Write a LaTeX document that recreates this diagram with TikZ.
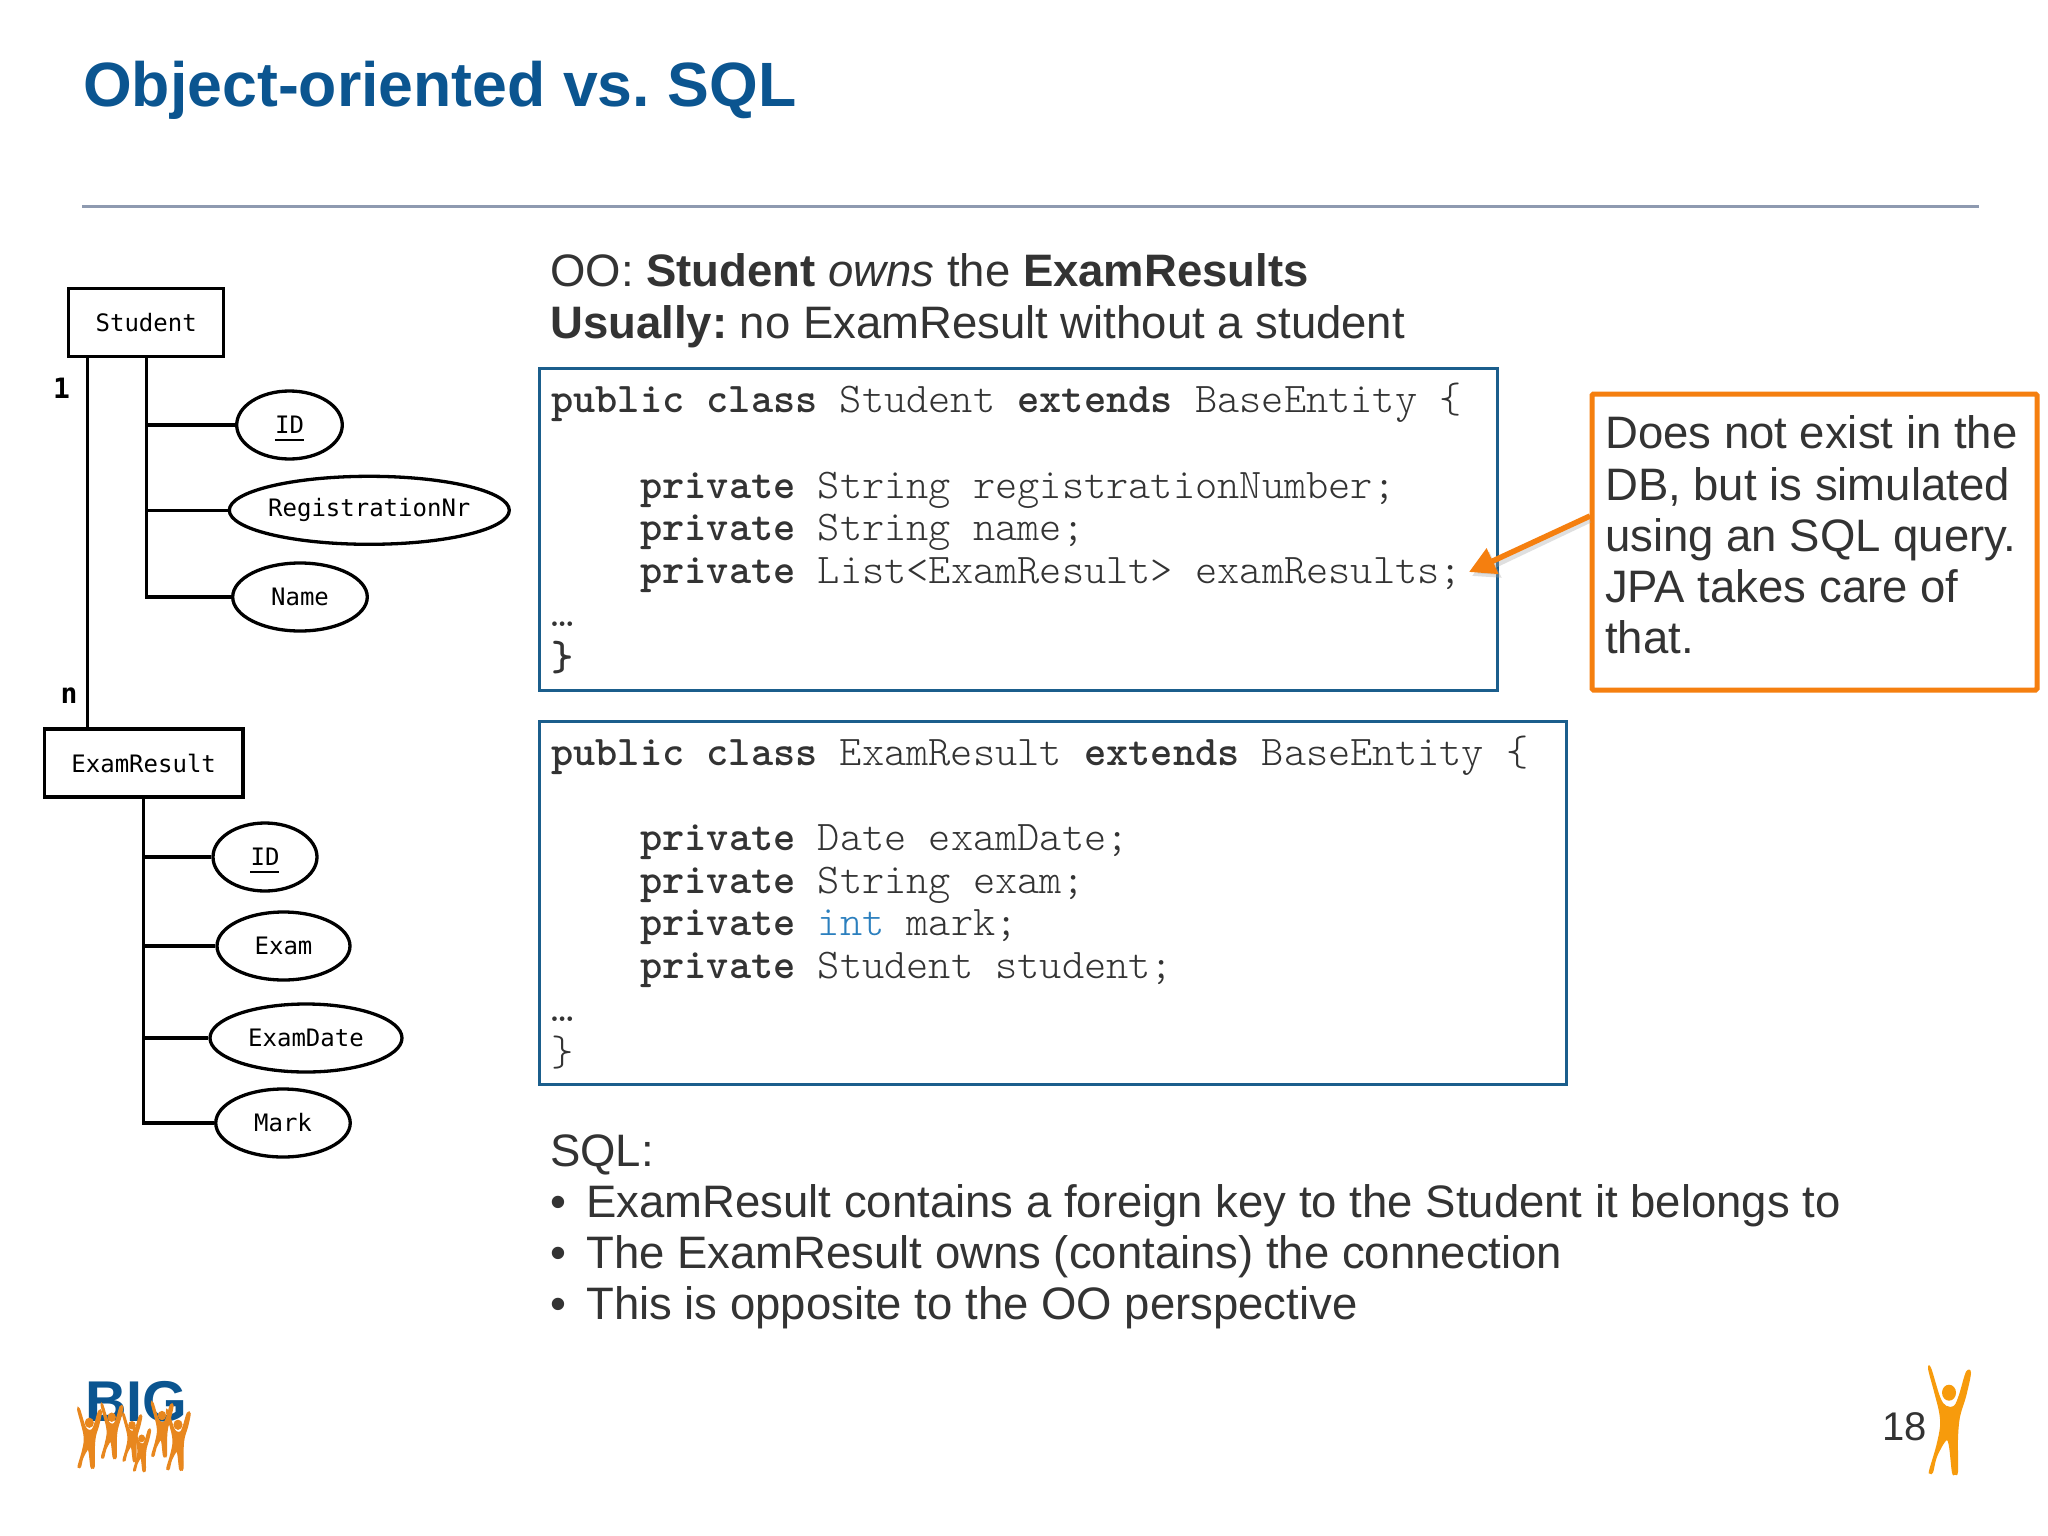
\documentclass[tikz,border=0pt]{standalone}
\usepackage{fontspec}
\setmainfont{Liberation Sans}
\newfontfamily\ermono{DejaVu Sans Mono}
\newfontfamily\codemono{Latin Modern Mono Light}
\usetikzlibrary{shapes.geometric,arrows.meta}
\definecolor{titleblue}{HTML}{0B5590}
\definecolor{rulegrey}{HTML}{8E9AB0}
\definecolor{bodygrey}{HTML}{333333}
\definecolor{boxblue}{HTML}{1B5E8C}
\definecolor{callorange}{HTML}{F57F0F}
\definecolor{logoorange}{HTML}{E8871E}
\definecolor{manorange}{HTML}{F79B0C}
\definecolor{intblue}{HTML}{2B7FBE}
\newcommand{\sizedfont}[1]{\fontsize{#1}{#1}\selectfont}
\newcommand{\kw}[1]{{\bfseries #1}}
\newcommand{\keyid}{\raisebox{-8pt}[0pt][0pt]{ID\llap{\rule[-8.4pt]{29pt}{2.8pt}}}}
\frenchspacing
\tikzset{
  x=1pt,y=-1pt,
  erbox/.style={draw=black,line width=3.3pt,rectangle,inner sep=0pt,font=\ermono\sizedfont{24},text=black},
  erell/.style={draw=black,line width=3.3pt,ellipse,inner sep=0pt,minimum height=68pt,font=\ermono\sizedfont{24},text=black},
  erline/.style={draw=black,line width=3.3pt},
  card/.style={font=\ermono\bfseries\sizedfont{28},text=black,inner sep=0pt},
  body/.style={anchor=base west,inner sep=0pt,font=\sizedfont{45.5},text=bodygrey},
  codeline/.style={anchor=base west,inner sep=0pt,font=\codemono\sizedfont{42.3},text=bodygrey},
  codebox/.style={draw=boxblue,line width=3pt,rectangle,inner sep=0pt},
  logoman/.style={fill=logoorange,draw=logoorange,line width=1.3pt,transform shape},
  person/.pic={
    \path[pic actions] (0,-29) ellipse (7 and 8);
    \path[pic actions] plot[smooth cycle,tension=.55] coordinates {
      (-21,-53) (-18,-54) (-9,-25) (-3,-16) (5,-16) (10,-27) (17,-50) (22,-49)
      (17,-25) (11,-5) (9,17) (9,50) (6,53) (3,51) (0,25) (-3,19) (-12,35) (-16,51)
      (-19,52) (-20,49) (-13,25) (-9,5) (-10,-10) (-15,-30)};
  },
}
\begin{document}
\begin{tikzpicture}
\useasboundingbox[fill=white] (0,0) rectangle (2048,1536);

% title
\node[anchor=base west,inner sep=0pt,font=\bfseries\sizedfont{62.6},text=titleblue] (title) at (83,107) {Object-oriented vs. SQL};
\coordinate (ruleL) at (82,206.5);
\coordinate (ruleR) at (1979,206.5);
\draw[rulegrey,line width=2.8pt] (ruleL) -- (ruleR);

% ER diagram
\node[erbox,minimum width=155pt,minimum height=68pt] (student) at (146.2,322.5) {Student};
\node[erell,minimum width=105.6pt] (sid) at (289.5,425) {\keyid};
\node[erell,minimum width=280pt] (reg) at (369.3,510.3) {\makebox[0pt]{RegistrationNr}};
\node[erell,minimum width=134.6pt] (name) at (300,597) {Name};
\node[erbox,minimum width=198.6pt,minimum height=68pt] (exam) at (143.7,763) {ExamResult};
\node[erell,minimum width=104pt] (eid) at (265,857) {\keyid};
\node[erell,minimum width=133pt] (eexam) at (283.5,946) {Exam};
\node[erell,minimum width=192pt] (edate) at (306,1038) {ExamDate};
\node[erell,minimum width=134.5pt] (emark) at (283,1123) {Mark};
\node[card] (one) at (61.5,388) {1};
\node[card] (many) at (69,696) {n};
\coordinate (rel) at (87.7,500);
\coordinate (sbus) at (146.3,500);
\coordinate (ebus) at (143.7,900);
\draw[erline] (student.south -| rel) -- (exam.north -| rel);
\draw[erline] (student.south -| sbus) |- (name.west);
\draw[erline] (sid.west) -- (sid.west -| sbus);
\draw[erline] (reg.west) -- (reg.west -| sbus);
\draw[erline] (exam.south -| ebus) |- (emark.west);
\draw[erline] (eid.west) -- (eid.west -| ebus);
\draw[erline] (eexam.west) -- (eexam.west -| ebus);
\draw[erline] (edate.west) -- (edate.west -| ebus);

% heading text
\node[body] (h1) at (550,286) {OO: \textbf{Student} \textit{owns} the \textbf{ExamResults}};
\node[body] (h2) at (550,338) {\textbf{Usually:} no ExamResult without a student};

% code boxes
\node[codebox,minimum width=958pt,minimum height=322pt] (box1) at (1018,529) {};
\node[codebox,minimum width=1027pt,minimum height=363pt] (box2) at (1052.5,902.5) {};
\node[codeline] (a1) at (551,412) {\kw{public class} Student \kw{extends} BaseEntity \{};
\node[codeline] (a2) at (640,498) {\kw{private} String registrationNumber;};
\node[codeline] (a3) at (640,540.5) {\kw{private} String name;};
\node[codeline] (a4) at (640,583) {\kw{private} List<ExamResult> examResults;};
\node[codeline] (a5) at (551,626) {…};
\node[codeline] (a6) at (551,670) {\kw{\}}};
\node[codeline] (b1) at (551,765) {\kw{public class} ExamResult \kw{extends} BaseEntity \{};
\node[codeline] (b2) at (640,850) {\kw{private} Date examDate;};
\node[codeline] (b3) at (640,893) {\kw{private} String exam;};
\node[codeline] (b4) at (640,935.5) {\kw{private} \textcolor{intblue}{int} mark;};
\node[codeline] (b5) at (640,978) {\kw{private} Student student;};
\node[codeline] (b6) at (551,1021) {…};
\node[codeline] (b7) at (551,1065) {\}};

% callout
\node[draw=callorange,line width=5pt,rectangle,rounded corners=1.5pt,inner sep=0pt,minimum width=445pt,minimum height=296pt] (call) at (1814.5,542) {};
\node[body] (c1) at (1605,448) {Does not exist in the};
\node[body] (c2) at (1605,500) {DB, but is simulated};
\node[body] (c3) at (1605,551) {using an SQL query.};
\node[body] (c4) at (1605,602) {JPA takes care of};
\node[body] (c5) at (1605,653) {that.};
\coordinate (tip) at (1469,572);
\coordinate (tail) at (1590,516);
\coordinate (tipS) at (1472,576);
\coordinate (tailS) at (1590,520);
\draw[black!35,opacity=.35,line width=5.5pt,-{Triangle[length=26pt,width=27pt]}] (tailS) -- (tipS);
\draw[callorange,line width=5.5pt,-{Triangle[length=26pt,width=27pt]}] (tail) -- (tip);

% SQL text
\node[body] (s0) at (550,1166) {SQL:};
\node[body] (s1) at (550,1217) {•};
\node[body] (s1t) at (586,1217) {ExamResult contains a foreign key to the Student it belongs to};
\node[body] (s2) at (550,1268) {•};
\node[body] (s2t) at (586,1268) {The ExamResult owns (contains) the connection};
\node[body] (s3) at (550,1319) {•};
\node[body] (s3t) at (586,1319) {This is opposite to the OO perspective};

% logo
\node[anchor=base west,inner sep=0pt,font=\bfseries\sizedfont{57.5},text=titleblue] (big) at (85,1421) {BIG};
\begin{scope}[shift={(162,1430)},scale=.5] \pic[logoman] {person}; \end{scope}
\begin{scope}[shift={(89.3,1438.7)},scale=.55] \pic[logoman] {person}; \end{scope}
\begin{scope}[shift={(111.7,1431.7)},scale=.5] \pic[logoman] {person}; \end{scope}
\begin{scope}[shift={(132,1438)},scale=.44] \pic[logoman] {person}; \end{scope}
\begin{scope}[shift={(178,1440.7)},scale=.55] \pic[logoman] {person}; \end{scope}
\begin{scope}[shift={(141.7,1450)},scale=.40] \pic[logoman] {person}; \end{scope}

% page number
\node[anchor=base west,inner sep=0pt,font=\sizedfont{40},text=bodygrey] (pg) at (1882,1440) {18};
\begin{scope}[shift={(1949,1421.7)}] \pic[fill=manorange] {person}; \end{scope}
\end{tikzpicture}
\end{document}
